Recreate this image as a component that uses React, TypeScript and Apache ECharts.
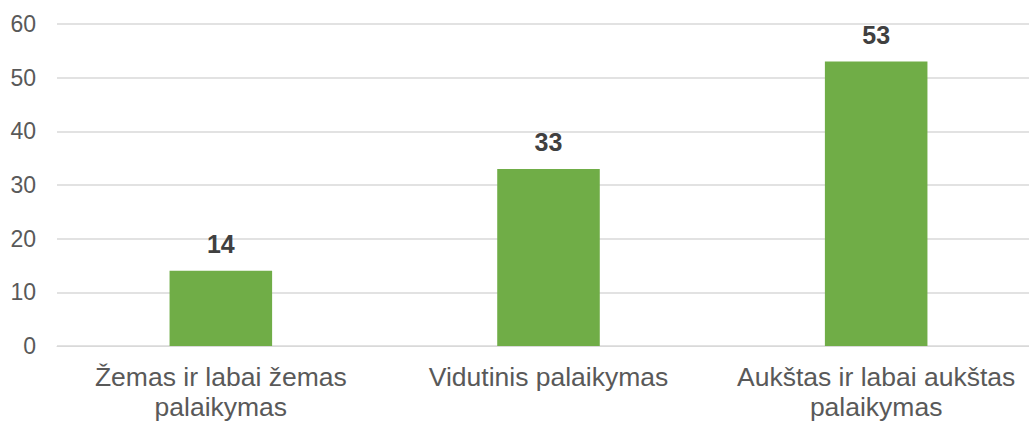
import React, { useEffect, useRef } from "react";
import * as echarts from "echarts";

const categories = [
  "Žemas ir labai žemas\npalaikymas",
  "Vidutinis palaikymas",
  "Aukštas ir labai aukštas\npalaikymas",
];
const values = [14, 33, 53];

export default function App() {
  const ref = useRef<HTMLDivElement>(null);
  useEffect(() => {
    const chart = echarts.init(ref.current!, null, { renderer: "svg" });
    chart.setOption({
      animation: false,
      grid: {
        left: 57,
        right: -11,
        top: 24,
        bottom: 75,
        containLabel: false,
        outerBoundsMode: "none",
      },
      xAxis: {
        type: "category",
        data: categories,
        axisLine: { show: true, lineStyle: { color: "#d9d9d9", width: 1 } },
        axisTick: { show: false },
        axisLabel: {
          color: "#595959",
          fontFamily: "Liberation Sans, Arial, sans-serif",
          fontSize: 26.5,
          lineHeight: 30,
          margin: 16,
          interval: 0,
        },
      },
      yAxis: {
        type: "value",
        min: 0,
        max: 60,
        interval: 10,
        axisLine: { show: false },
        axisTick: { show: false },
        splitLine: { lineStyle: { color: "#d9d9d9", width: 1.5 } },
        axisLabel: {
          color: "#595959",
          fontFamily: "Liberation Sans, Arial, sans-serif",
          fontSize: 23,
          margin: 21,
        },
      },
      series: [
        {
          type: "bar",
          data: values,
          barWidth: "31.3%",
          itemStyle: { color: "#70ad47" },
          label: {
            show: true,
            position: "top",
            distance: 14,
            color: "#404040",
            fontWeight: "bold",
            fontFamily: "Liberation Sans, Arial, sans-serif",
            fontSize: 25,
          },
        },
      ],
    });
    return () => chart.dispose();
  }, []);
  return (
    <div
      ref={ref}
      style={{ position: "absolute", left: 0, top: 0, width: 1029, height: 421, background: "#fff" }}
    />
  );
}
